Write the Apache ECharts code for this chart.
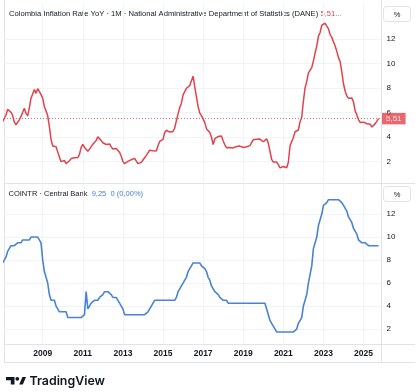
<!DOCTYPE html>
<html><head><meta charset="utf-8">
<script src="https://cdn.jsdelivr.net/npm/echarts@6/dist/echarts.min.js"></script>
<style>html,body{margin:0;padding:0;background:#fff}#c{width:420px;height:392px}</style>
</head><body><div id="c"></div>
<script>
const startYear = 2007; // first monthly bar: Jan 2007
const inflation = [
  5.26,5.26,5.78,6.26,6.23,6.03,5.77,5.22,5.01,5.16,5.41,5.69,
  6.00,6.35,5.93,5.73,6.39,7.18,7.52,7.87,7.57,7.94,7.73,7.67,
  7.18,6.47,6.14,5.73,4.85,3.81,3.28,3.13,3.21,3.21,2.37,2.00,
  2.10,2.09,1.84,1.98,2.07,2.25,2.24,2.31,2.28,2.33,2.59,3.17,
  3.40,3.17,3.19,2.84,3.02,3.23,3.42,3.27,3.73,4.02,3.96,3.73,
  3.54,3.55,3.40,3.43,3.44,3.20,3.03,3.11,3.08,3.06,2.77,2.44,
  2.00,1.83,1.91,2.02,2.00,2.16,2.22,2.27,2.27,1.84,1.76,1.94,
  2.13,2.32,2.51,2.72,2.93,2.79,2.89,3.02,2.86,3.29,3.65,3.66,
  3.82,4.36,4.56,4.64,4.41,4.42,4.46,4.74,5.35,5.89,6.39,6.77,
  7.45,7.59,7.98,7.93,8.20,8.60,8.97,8.10,7.27,6.48,5.96,5.75,
  5.47,5.18,4.69,4.66,4.37,3.99,3.40,3.87,3.97,4.05,4.12,4.09,
  3.68,3.37,3.14,3.13,3.16,3.20,3.12,3.10,3.23,3.33,3.27,3.18,
  3.15,3.01,3.21,3.25,3.31,3.43,3.79,3.75,3.82,3.86,3.84,3.80,
  3.62,3.72,3.86,3.51,2.85,2.19,1.97,1.88,1.97,1.75,1.49,1.61,
  1.60,1.56,1.51,1.95,3.30,3.63,3.97,4.44,4.51,4.58,5.26,5.62,
  6.94,8.01,8.53,9.23,9.07,9.67,10.21,10.84,11.44,12.22,12.53,13.12,
  13.25,13.28,13.34,12.82,12.36,12.13,11.78,11.43,10.99,10.48,10.15,9.28,
  8.35,7.74,7.36,7.16,7.16,7.18,6.86,6.12,5.81,5.41,5.20,5.20,
  5.22,5.28,5.09,5.16,5.05,4.82,4.90,5.10,5.18,5.51
];
const policyRate = [
  7.75,8.00,8.25,8.75,9.00,9.25,9.25,9.25,9.25,9.50,9.50,9.50,
  9.75,9.75,9.75,9.75,9.75,10.00,10.00,10.00,10.00,10.00,10.00,9.50,
  8.00,7.00,7.00,6.00,5.00,4.50,4.50,4.50,4.00,4.00,3.50,3.50,
  3.50,3.50,3.50,3.00,3.00,3.00,3.00,3.00,3.00,3.00,3.00,3.00,
  3.00,3.25,5.25,3.75,4.00,4.25,4.25,4.50,4.50,4.50,4.75,4.75,
  5.00,5.25,5.25,5.25,5.25,5.00,4.75,4.75,4.75,4.50,4.25,4.00,
  3.75,3.25,3.25,3.25,3.25,3.25,3.25,3.25,3.25,3.25,3.25,3.25,
  3.25,3.25,3.25,3.50,3.75,4.00,4.25,4.50,4.50,4.50,4.50,4.50,
  4.50,4.50,4.50,4.50,4.50,4.50,4.50,4.50,4.75,5.25,5.50,5.75,
  6.00,6.25,6.50,7.00,7.25,7.50,7.75,7.75,7.75,7.75,7.75,7.50,
  7.50,7.25,7.00,6.50,6.25,5.75,5.50,5.25,5.25,5.00,4.75,4.75,
  4.50,4.50,4.50,4.25,4.25,4.25,4.25,4.25,4.25,4.25,4.25,4.25,
  4.25,4.25,4.25,4.25,4.25,4.25,4.25,4.25,4.25,4.25,4.25,4.25,
  4.25,4.25,3.75,3.25,2.75,2.50,2.25,2.00,1.75,1.75,1.75,1.75,
  1.75,1.75,1.75,1.75,1.75,1.75,1.75,1.75,2.00,2.50,2.50,3.00,
  4.00,4.00,5.00,6.00,6.00,7.50,9.00,9.00,10.00,11.00,11.00,12.00,
  12.75,12.75,13.00,13.25,13.25,13.25,13.25,13.25,13.25,13.25,13.25,13.00,
  12.75,12.75,12.25,11.75,11.75,11.25,10.75,10.75,10.25,9.75,9.75,9.50,
  9.50,9.50,9.50,9.25,9.25,9.25,9.25,9.25,9.25,9.25
];
const yearLabels = [2009,2011,2013,2015,2017,2019,2021,2023,2025];
const inflTicks = [2,4,6,8,10,12];
const rateTicks = [2,4,6,8,10,12];
const inflTitle = 'Colombia Inflation Rate YoY · 1M · National Administrative Department of Statistics (DANE)';
const rateTitle = 'COINTR · Central Bank';
const rateChange = '0 (0,00%)';

const RED = '#e0434c', BLUE = '#4a82d4', TXT = '#131722', FRAME = '#e0e3eb', GRIDC = '#f0f3fa';
const FONT = '"Liberation Sans Narrow","Liberation Sans",Arial,sans-serif';
const toPoints = arr => arr.map((v, i) => [startYear + i / 12, v]);
const fmt = v => v.toFixed(2).replace('.', ',');
const lastInfl = inflation[inflation.length - 1];
const lastRate = policyRate[policyRate.length - 1];

const X_MIN = 2007.07, X_MAX = 2025.87;
function xAx(idx, showLabels) {
  return {
    type: 'value', gridIndex: idx, min: X_MIN, max: X_MAX,
    axisLine: {show: false},
    axisTick: {show: false, customValues: yearLabels},
    splitLine: {show: true, lineStyle: {color: GRIDC, width: 1}},
    axisLabel: {show: showLabels, customValues: yearLabels, formatter: v => String(Math.round(v)),
      color: TXT, fontFamily: FONT, fontWeight: 'bold', fontSize: 8.5, margin: 5, lineHeight: 10}
  };
}
function yAx(idx, min, max, ticks) {
  return {
    type: 'value', gridIndex: idx, position: 'right', min: min, max: max,
    axisLine: {show: false},
    axisTick: {show: false, customValues: ticks},
    splitLine: {show: true, lineStyle: {color: GRIDC, width: 1}},
    axisLabel: {customValues: ticks, color: TXT, fontFamily: FONT, fontSize: 8, margin: 5.5, formatter: v => String(v)}
  };
}
function lastLabel(color, value, showLine) {
  return {
    symbol: 'none', silent: true, animation: false,
    data: [{yAxis: value}],
    lineStyle: {type: [1, 2], color: color, width: 1, opacity: showLine ? 0.8 : 0},
    label: {show: true, position: 'end', distance: 1, formatter: () => fmt(value),
      backgroundColor: color, color: '#fff', fontFamily: FONT, fontSize: 8, padding: [1.5, 4, 1, 4], lineHeight: 9}
  };
}

const chart = echarts.init(document.getElementById('c'), null, {renderer: 'canvas'});
chart.setOption({
  animation: false,
  backgroundColor: '#fff',
  grid: [
    {left: 4, right: 39, top: 4, height: 179},
    {left: 4, right: 39, top: 183, height: 161}
  ],
  xAxis: [xAx(0, false), xAx(1, true)],
  yAxis: [yAx(0, 0.26, 14.85, inflTicks), yAx(1, 0.7, 14.7, rateTicks)],
  series: [
    {type: 'line', xAxisIndex: 0, yAxisIndex: 0, data: toPoints(inflation), showSymbol: false,
      lineStyle: {color: RED, width: 1.5}, markLine: lastLabel(RED, lastInfl, true)},
    {type: 'line', xAxisIndex: 1, yAxisIndex: 1, data: toPoints(policyRate), showSymbol: false,
      lineStyle: {color: BLUE, width: 1.6}, markLine: lastLabel(BLUE, lastRate, false)}
  ],
  graphic: [
    {type: 'line', shape: {x1: 4.5, y1: 0, x2: 4.5, y2: 362}, style: {stroke: FRAME, lineWidth: 1}, silent: true},
    {type: 'line', shape: {x1: 381.5, y1: 0, x2: 381.5, y2: 362}, style: {stroke: FRAME, lineWidth: 1}, silent: true},
    {type: 'line', shape: {x1: 4, y1: 183.5, x2: 415, y2: 183.5}, style: {stroke: FRAME, lineWidth: 1}, silent: true},
    {type: 'line', shape: {x1: 4, y1: 344.5, x2: 415, y2: 344.5}, style: {stroke: FRAME, lineWidth: 1}, silent: true},
    {type: 'line', shape: {x1: 4, y1: 362.5, x2: 415, y2: 362.5}, style: {stroke: FRAME, lineWidth: 1}, silent: true},
    {type: 'rect', shape: {x: 383.5, y: 6.5, width: 27, height: 15, r: 3}, style: {fill: '#fff', stroke: FRAME}, silent: true},
    {type: 'text', x: 397, y: 14.5, style: {text: '%', fill: TXT, font: '7.5px ' + FONT, align: 'center', verticalAlign: 'middle'}, silent: true},
    {type: 'rect', shape: {x: 383.5, y: 186.5, width: 27, height: 15, r: 3}, style: {fill: '#fff', stroke: FRAME}, silent: true},
    {type: 'text', x: 397, y: 194.5, style: {text: '%', fill: TXT, font: '7.5px ' + FONT, align: 'center', verticalAlign: 'middle'}, silent: true},
    {type: 'text', x: 9, y: 14, scaleX: 0.955, silent: true, style: {
      text: '{a|' + inflTitle + '}{b| ' + fmt(lastInfl) + '...}', verticalAlign: 'middle',
      rich: {a: {fill: TXT, font: '8px ' + FONT}, b: {fill: RED, font: '8px ' + FONT}}}},
    {type: 'text', x: 8.5, y: 193.5, scaleX: 0.94, silent: true, style: {
      text: '{a|' + rateTitle + '}{b|  ' + fmt(lastRate) + '  ' + rateChange + '}', verticalAlign: 'middle',
      rich: {a: {fill: TXT, font: '8px ' + FONT}, b: {fill: BLUE, font: '8px ' + FONT}}}},
    {type: 'polygon', shape: {points: [[6,377],[14.5,377],[14.5,384.5],[10.8,384.5],[10.8,380.3],[6,380.3]]}, style: {fill: TXT}, silent: true},
    {type: 'circle', shape: {cx: 17.3, cy: 378.8, r: 1.9}, style: {fill: TXT}, silent: true},
    {type: 'polygon', shape: {points: [[19.2,384.5],[22.4,377],[26,377],[22.8,384.5]]}, style: {fill: TXT}, silent: true},
    {type: 'text', x: 29.5, y: 380.8, silent: true, style: {text: 'TradingView', fill: TXT, font: '600 12.4px Inter, "Liberation Sans", sans-serif', verticalAlign: 'middle'}}
  ]
});
</script></body></html>
